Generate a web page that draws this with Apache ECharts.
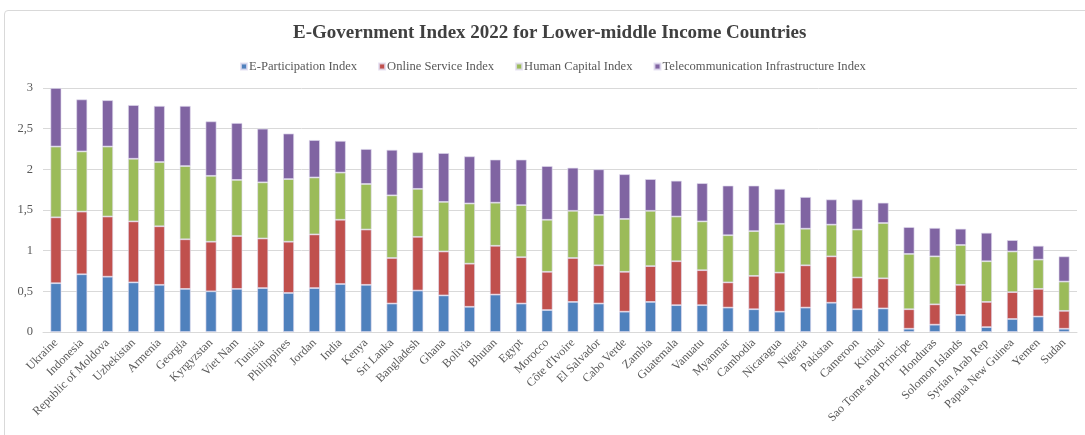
<!DOCTYPE html>
<html>
<head>
<meta charset="utf-8">
<script src="https://cdn.jsdelivr.net/npm/echarts@6/dist/echarts.min.js"></script>
<style>
  html, body { margin: 0; padding: 0; background: #fff; }
  #frame { position: absolute; left: 4px; top: 10px; width: 1090px; height: 430px;
           border: 1px solid #d9d9d9; border-radius: 4px; box-sizing: border-box; }
  #chart { position: absolute; left: 0; top: 0; width: 1085px; height: 435px; }
</style>
</head>
<body>
<div id="frame"></div>
<div id="chart"></div>
<script>
const countries = ["Ukraine","Indonesia","Republic of Moldova","Uzbekistan","Armenia","Georgia","Kyrgyzstan","Viet Nam","Tunisia","Philippines","Jordan","India","Kenya","Sri Lanka","Bangladesh","Ghana","Bolivia","Bhutan","Egypt","Morocco","Côte d'Ivoire","El Salvador","Cabo Verde","Zambia","Guatemala","Vanuatu","Myanmar","Cambodia","Nicaragua","Nigeria","Pakistan","Cameroon","Kiribati","Sao Tome and Principe","Honduras","Solomon Islands","Syrian Arab Rep","Papua New Guinea","Yemen","Sudan"];

const eParticipation = [0.60,0.71,0.68,0.61,0.58,0.53,0.50,0.53,0.54,0.48,0.54,0.59,0.58,0.35,0.51,0.45,0.31,0.46,0.35,0.27,0.37,0.35,0.25,0.37,0.33,0.33,0.30,0.28,0.25,0.30,0.36,0.28,0.29,0.04,0.09,0.21,0.06,0.16,0.19,0.04];
const onlineService  = [0.81,0.77,0.74,0.75,0.72,0.61,0.61,0.65,0.61,0.63,0.66,0.79,0.68,0.56,0.66,0.54,0.53,0.60,0.57,0.47,0.54,0.47,0.49,0.44,0.54,0.43,0.31,0.41,0.48,0.52,0.57,0.39,0.37,0.24,0.25,0.37,0.31,0.33,0.34,0.22];
const humanCapital   = [0.87,0.74,0.86,0.77,0.79,0.90,0.81,0.69,0.69,0.77,0.70,0.58,0.56,0.77,0.59,0.61,0.74,0.53,0.64,0.64,0.58,0.62,0.65,0.68,0.55,0.60,0.58,0.55,0.60,0.45,0.39,0.59,0.68,0.68,0.59,0.49,0.50,0.50,0.36,0.36];
const telecomInfra   = [0.72,0.64,0.57,0.66,0.69,0.74,0.67,0.70,0.66,0.56,0.46,0.39,0.43,0.56,0.45,0.60,0.58,0.53,0.56,0.66,0.53,0.56,0.55,0.39,0.44,0.47,0.61,0.56,0.43,0.39,0.31,0.37,0.25,0.33,0.35,0.20,0.35,0.14,0.17,0.31];

const seriesNames = ["E-Participation Index","Online Service Index","Human Capital Index","Telecommunication Infrastructure Index"];
const yTicks = [0, 0.5, 1, 1.5, 2, 2.5, 3];
const yTickLabels = ["0","0,5","1","1,5","2","2,5","3"];

const colors = ["#4F81BD","#C0504D","#9BBB59","#8064A2"];
const serif = "'Liberation Serif', 'DejaVu Serif', serif";
const values = [eParticipation, onlineService, humanCapital, telecomInfra];

const chart = echarts.init(document.getElementById('chart'), null, { renderer: 'canvas' });
chart.setOption({
  animation: false,
  color: colors,
  title: {
    text: "E-Government Index 2022 for Lower-middle Income Countries",
    left: 288,
    top: 19,
    textStyle: { fontFamily: serif, fontSize: 19, fontWeight: 'bold', color: '#404040' }
  },
  legend: {
    top: 55,
    left: 235,
    itemWidth: 6,
    itemHeight: 6,
    itemGap: 21,
    icon: 'rect',
    textStyle: { fontFamily: serif, fontSize: 12.6, color: '#595959', padding: [0, 0, 0, -3] },
    data: seriesNames
  },
  grid: { left: 43, right: 8, top: 88, bottom: 103, containLabel: false },
  xAxis: {
    type: 'category',
    data: countries,
    axisTick: { show: false },
    axisLine: { lineStyle: { color: '#d9d9d9' } },
    axisLabel: { interval: 0, rotate: 45, margin: 9, fontFamily: serif, fontSize: 12, color: '#595959' }
  },
  yAxis: {
    type: 'value',
    min: 0, max: 3, interval: 0.5,
    axisLine: { show: false },
    axisTick: { show: false },
    splitLine: { lineStyle: { color: '#d9d9d9' } },
    axisLabel: {
      margin: 10,
      fontFamily: serif, fontSize: 12.5, color: '#595959',
      formatter: v => yTickLabels[yTicks.indexOf(v)] ?? String(v)
    }
  },
  series: seriesNames.map((name, i) => ({
    name,
    type: 'bar',
    stack: 'egdi',
    barWidth: 11,
    data: values[i],
    itemStyle: { color: colors[i], borderColor: 'rgba(225,220,240,0.8)', borderWidth: 0.8 }
  }))
});
</script>
</body>
</html>
